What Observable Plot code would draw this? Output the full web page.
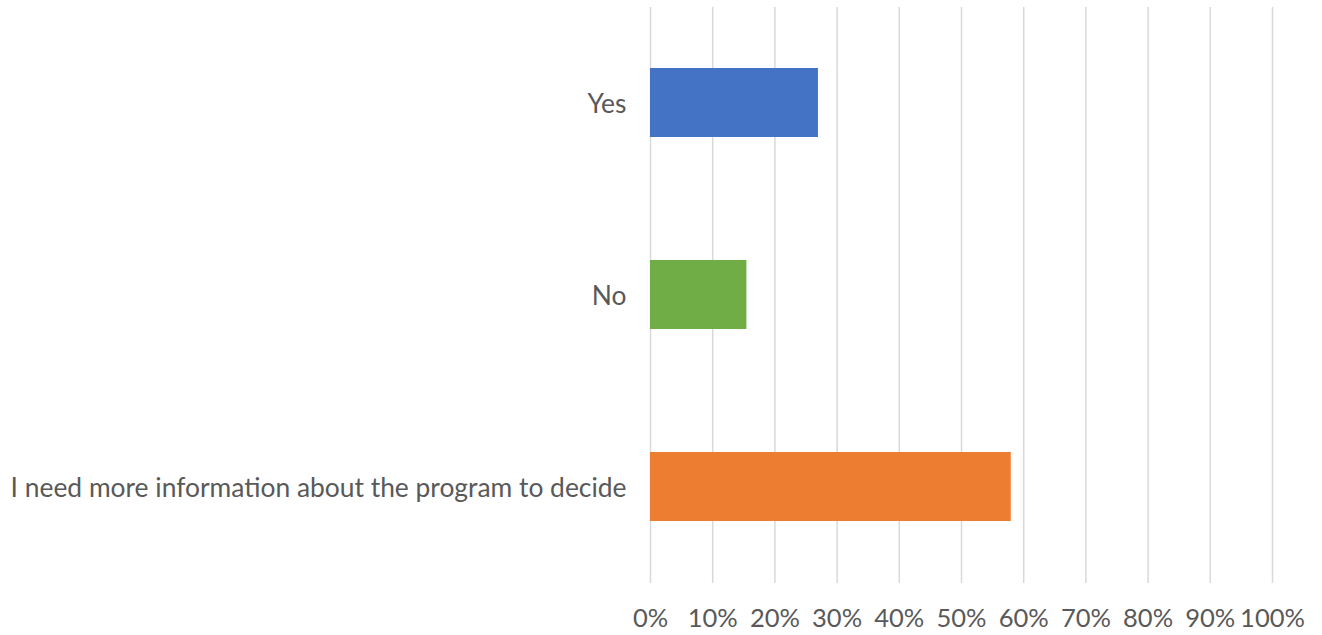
<!DOCTYPE html>
<html>
<head>
<meta charset="utf-8">
<script src="https://cdn.jsdelivr.net/npm/d3@7"></script>
<script src="https://cdn.jsdelivr.net/npm/@observablehq/plot@0.6"></script>
<style>
  html, body { margin: 0; padding: 0; background: #ffffff; }
  #chart svg { display: block; }
</style>
</head>
<body>
<div id="chart"></div>
<script>
const categories = ["Yes", "No", "I need more information about the program to decide"];
const values = [0.27, 0.155, 0.58];
const colors = ["#4472C4", "#70AD47", "#ED7D31"];
const xTicks = [0, 0.1, 0.2, 0.3, 0.4, 0.5, 0.6, 0.7, 0.8, 0.9, 1.0];

const data = categories.map((c, i) => ({category: c, value: values[i], color: colors[i]}));

const chart = Plot.plot({
  width: 1322,
  height: 635,
  marginLeft: 650,
  marginRight: 50,
  marginTop: 7,
  marginBottom: 52,
  style: {fontFamily: "Lato, sans-serif", fontSize: "26px", color: "#595959", background: "#ffffff"},
  x: {domain: [0, 1]},
  y: {domain: categories, paddingInner: 0.64, paddingOuter: 0.32},
  marks: [
    Plot.ruleX(xTicks, {stroke: "#d9d9d9", strokeWidth: 1.5}),
    Plot.barX(data, {x: "value", y: "category", fill: "color"}),
    Plot.axisX({ticks: xTicks, tickSize: 0, tickPadding: 25, tickFormat: d => Math.round(d * 100) + "%", fill: "#595959", fontSize: 25.5, label: null}),
    Plot.axisY({tickSize: 0, tickPadding: 24, dy: 2, fill: "#595959", fontSize: 26.4, label: null})
  ]
});
document.getElementById("chart").appendChild(chart);
</script>
</body>
</html>
